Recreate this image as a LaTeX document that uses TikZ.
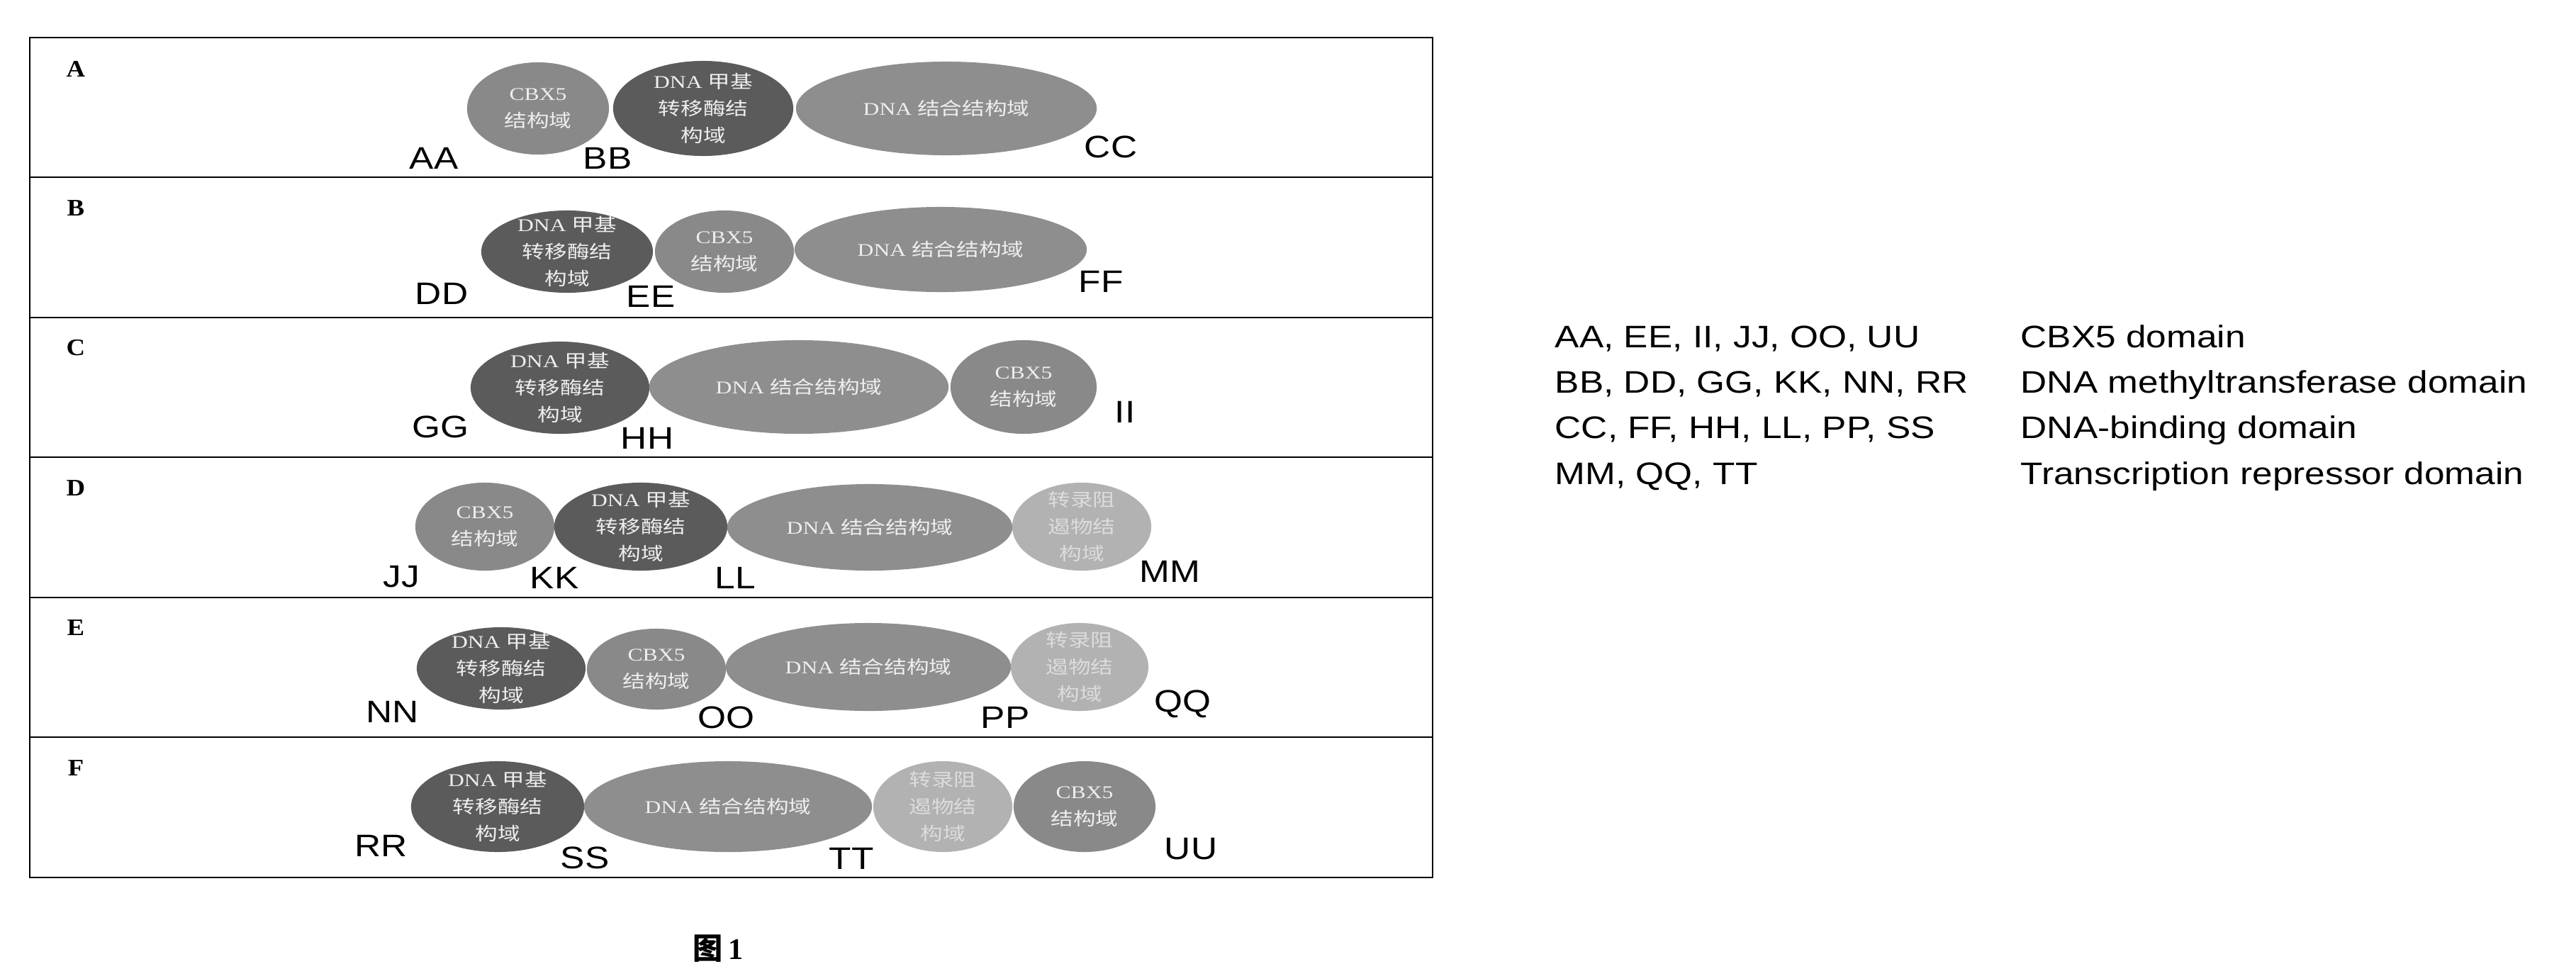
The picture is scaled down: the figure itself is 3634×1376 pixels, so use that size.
\documentclass[tikz,border=0pt]{standalone}
\usepackage{fontspec}
\setmainfont{Liberation Serif}
\newfontfamily\cjkf[FakeStretch=1.25]{Noto Sans CJK SC}
\newfontfamily\cjkplain{Noto Sans CJK SC}
\newfontfamily\serifw[FakeStretch=1.25]{Liberation Serif}
\newfontfamily\serifb[FakeStretch=1.1]{Liberation Serif}
\newfontfamily\arialw[FakeStretch=1.17]{Liberation Sans}
\usetikzlibrary{shapes.geometric}
\definecolor{cbxc}{HTML}{898989}
\definecolor{mtfc}{HTML}{5B5B5B}
\definecolor{dbdc}{HTML}{8E8E8E}
\definecolor{trdc}{HTML}{B2B2B2}
\definecolor{txtc}{HTML}{EEEEEE}
\definecolor{rtxtc}{HTML}{DCDCDC}
\newcommand\zh[1]{{\cjkf #1}}
\newcommand\tCBX{CBX5\\\zh{结构域}}
\newcommand\tMTF{DNA \zh{甲基}\\\zh{转移酶结}\\\zh{构域}}
\newcommand\tDBD{DNA \zh{结合结构域}}
\newcommand\tTRD{\zh{转录阻}\\\zh{遏物结}\\\zh{构域}}
\tikzset{
  dom/.style={ellipse, inner sep=0pt, draw=none},
  cbx/.style={dom, fill=cbxc},
  mtf/.style={dom, fill=mtfc},
  dbd/.style={dom, fill=dbdc},
  trd/.style={dom, fill=trdc},
  intext/.style={align=center, text=txtc, inner sep=0pt,
    font=\serifw\fontsize{7.2}{10.8}\selectfont},
  cbxtxt/.style={intext},
  mtftxt/.style={intext},
  dbdtxt/.style={intext},
  trdtxt/.style={intext, text=rtxtc},
  tag/.style={inner sep=0pt, font=\arialw\fontsize{12.5}{14}\selectfont},
  legend/.style={inner sep=0pt, anchor=base west, font=\arialw\fontsize{12.5}{14}\selectfont},
  rowlbl/.style={inner sep=0pt, font=\serifb\bfseries\fontsize{9.5}{11}\selectfont},
  frame/.style={line width=0.8pt, draw=black}
}
\newcommand\mkdom[7]{%
  \node[#2, minimum width={#5*0.02cm}, minimum height={#6*0.02cm}] (#1) at (#3,#4) {};
  \node[#2txt] (#1t) at (#1.center) {#7};}
\begin{document}
\begin{tikzpicture}[x=0.01cm, y=-0.01cm]
\useasboundingbox (0,0) rectangle (3634,1376);
% frame and row dividers
\draw[frame] (42,53) rectangle (2021,1238);
\foreach \yy in {250,448,645,843,1040} \draw[frame] (42,\yy) -- (2021,\yy);
% row letters
\node[rowlbl] (rA) at (107,97) {A};
\node[rowlbl] (rB) at (107,294) {B};
\node[rowlbl] (rC) at (107,491) {C};
\node[rowlbl] (rD) at (107,689) {D};
\node[rowlbl] (rE) at (107,886) {E};
\node[rowlbl] (rF) at (107,1084) {F};
% row A
\mkdom{a1}{cbx}{759}{153}{100}{65}{\tCBX}
\mkdom{a2}{mtf}{992}{153}{127}{67}{\tMTF}
\mkdom{a3}{dbd}{1335}{153}{212}{66}{\tDBD}
\node[tag] (AA) at (612,223) {AA};
\node[tag] (BB) at (857,223) {BB};
\node[tag] (CC) at (1567,207) {CC};
% row B
\mkdom{b1}{mtf}{800}{355}{121}{58}{\tMTF}
\mkdom{b2}{cbx}{1022}{355}{98}{58}{\tCBX}
\mkdom{b3}{dbd}{1327}{352}{206}{60}{\tDBD}
\node[tag] (DD) at (623,414) {DD};
\node[tag] (EE) at (918,418) {EE};
\node[tag] (FF) at (1553,397) {FF};
% row C
\mkdom{c1}{mtf}{790}{547}{126}{65}{\tMTF}
\mkdom{c2}{dbd}{1127}{546}{211}{66}{\tDBD}
\mkdom{c3}{cbx}{1444}{546}{103}{66}{\tCBX}
\node[tag] (GG) at (621,602) {GG};
\node[tag] (HH) at (913,618) {HH};
\node[tag] (II) at (1587,581) {II};
% row D
\mkdom{d1}{cbx}{684}{743}{98}{62}{\tCBX}
\mkdom{d2}{mtf}{904}{743}{122}{62}{\tMTF}
\mkdom{d3}{dbd}{1227}{744}{201}{61}{\tDBD}
\mkdom{d4}{trd}{1526}{743}{98}{62}{\tTRD}
\node[tag] (JJ) at (566,814) {JJ};
\node[tag] (KK) at (782,815) {KK};
\node[tag] (LL) at (1037,815) {LL};
\node[tag] (MM) at (1650,806) {MM};
% row E
\mkdom{e1}{mtf}{707}{943}{119}{58}{\tMTF}
\mkdom{e2}{cbx}{926}{944}{98}{57}{\tCBX}
\mkdom{e3}{dbd}{1225}{941}{201}{62}{\tDBD}
\mkdom{e4}{trd}{1523}{941}{97}{62}{\tTRD}
\node[tag] (NN) at (554,1004) {NN};
\node[tag] (OO) at (1024,1012) {OO};
\node[tag] (PP) at (1418,1012) {PP};
\node[tag] (QQ) at (1668,993) {QQ};
% row F
\mkdom{f1}{mtf}{702}{1138}{122}{64}{\tMTF}
\mkdom{f2}{dbd}{1027}{1138}{203}{64}{\tDBD}
\mkdom{f3}{trd}{1330}{1138}{98}{64}{\tTRD}
\mkdom{f4}{cbx}{1530}{1138}{100}{64}{\tCBX}
\node[tag] (RR) at (538,1193) {RR};
\node[tag] (SS) at (825,1210) {SS};
\node[tag] (TT) at (1201,1211) {TT};
\node[tag] (UU) at (1680,1198) {UU};
% legend
\node[legend] (l1a) at (2193,490) {AA, EE, II, JJ, OO, UU};
\node[legend] (l1b) at (2850,490) {CBX5 domain};
\node[legend] (l2a) at (2193,554) {BB, DD, GG, KK, NN, RR};
\node[legend] (l2b) at (2850,554) {DNA methyltransferase domain};
\node[legend] (l3a) at (2193,618) {CC, FF, HH, LL, PP, SS};
\node[legend] (l3b) at (2850,618) {DNA-binding domain};
\node[legend] (l4a) at (2193,683) {MM, QQ, TT};
\node[legend] (l4b) at (2850,683) {Transcription repressor domain};
% caption
\node[inner sep=0pt, font=\fontsize{12}{14}\selectfont] (cap) at (1013,1338) {{\cjkplain\bfseries 图}\,{\bfseries 1}};
\end{tikzpicture}
\end{document}
